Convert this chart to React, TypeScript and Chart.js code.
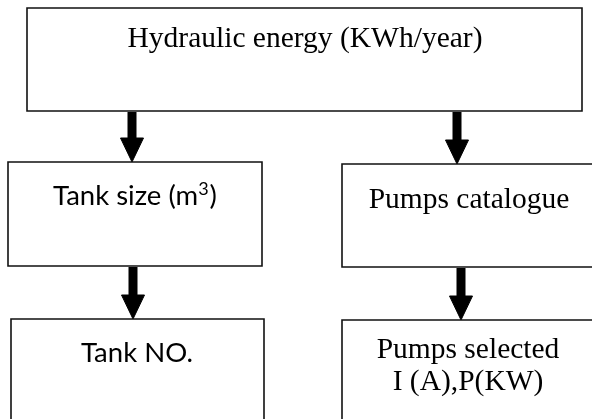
import React, { useEffect, useRef } from "react";
import { Chart, registerables } from "chart.js";

Chart.register(...registerables);

// ---- Flowchart content (nodes and links) ----
const nodeLines: string[][] = [
  ["Hydraulic energy (KWh/year)"],
  ["Tank size (m³)"],
  ["Pumps catalogue"],
  ["Tank NO."],
  ["Pumps selected", "I (A),P(KW)"],
];
const nodeFontKind: string[] = ["serif", "sans", "serif", "sans", "serif"];
const linkFrom: number[] = [0, 0, 1, 2];
const linkTo: number[] = [1, 2, 3, 4];

// ---- Layout (diagram units on the hidden linear scales) ----
const boxLeft: number[] = [27, 8, 342, 11, 342];
const boxRight: number[] = [582, 262, 600, 264, 600];
const boxTop: number[] = [8, 162, 164, 319, 320];
const boxBottom: number[] = [111, 266, 267, 430, 430];
const textCenterX: number[] = [305, 135, 469, 137, 468];
const textBaseline: number[] = [47, 205, 208, 362, 358];
const linkX: number[] = [132, 457, 133, 461];

const W = 592;
const H = 419;
const HEAD_LEN = 24;
const HEAD_HALF = 11.5;
const LINE_GAP = 32;

const fontFamily: Record<string, string> = {
  serif: '"Liberation Serif", "Times New Roman", serif',
  sans: 'Lato, "Open Sans", sans-serif',
};
const fontSize: Record<string, number> = { serif: 29.5, sans: 27.5 };

function buildDatasets() {
  const ds: any[] = [];
  nodeLines.forEach((_, i) => {
    const l = boxLeft[i], r = boxRight[i], t = boxTop[i], b = boxBottom[i];
    ds.push({
      label: "box" + i,
      data: [
        { x: l, y: t },
        { x: r, y: t },
        { x: r, y: b },
        { x: l, y: b },
        { x: l, y: t },
      ],
      showLine: true,
      borderColor: "#111",
      borderWidth: 1.6,
      borderJoinStyle: "miter",
      borderCapStyle: "square",
      pointRadius: 0,
      fill: false,
      tension: 0,
    });
  });
  linkFrom.forEach((from, k) => {
    const to = linkTo[k];
    const x = linkX[k];
    const y0 = boxBottom[from] + 1;
    const tip = boxTop[to];
    ds.push({
      label: "stem" + k,
      data: [
        { x, y: y0 },
        { x, y: tip - HEAD_LEN + 1 },
      ],
      showLine: true,
      borderColor: "#000",
      borderWidth: 9,
      borderCapStyle: "butt",
      pointRadius: 0,
      fill: false,
    });
    ds.push({
      label: "head" + k,
      data: [
        { x: x - HEAD_HALF, y: tip - HEAD_LEN },
        { x: x + HEAD_HALF, y: tip - HEAD_LEN },
        { x, y: tip },
        { x: x - HEAD_HALF, y: tip - HEAD_LEN },
      ],
      showLine: true,
      borderColor: "#000",
      backgroundColor: "#000",
      borderWidth: 1,
      pointRadius: 0,
      fill: "shape",
    });
  });
  return ds;
}

// draws a line, rendering "³" as a raised, smaller "3"
function drawLine(ctx: CanvasRenderingContext2D, text: string, cx: number, by: number, kind: string) {
  const size = fontSize[kind];
  const fam = fontFamily[kind];
  const main = `${size}px ${fam}`;
  const sup = `${Math.round(size * 0.65)}px ${fam}`;
  const parts = text.split("³");
  const pieces: { t: string; sup: boolean }[] = [];
  parts.forEach((p, idx) => {
    if (p) pieces.push({ t: p, sup: false });
    if (idx < parts.length - 1) pieces.push({ t: "3", sup: true });
  });
  let total = 0;
  const widths = pieces.map((pc) => {
    ctx.font = pc.sup ? sup : main;
    const w = ctx.measureText(pc.t).width + (pc.sup ? 1 : 0);
    total += w;
    return w;
  });
  let x = cx - total / 2;
  ctx.textAlign = "left";
  pieces.forEach((pc, idx) => {
    ctx.font = pc.sup ? sup : main;
    ctx.fillText(pc.t, x, pc.sup ? by - size * 0.36 : by);
    x += widths[idx];
  });
}

const textPlugin = {
  id: "nodeText",
  afterDatasetsDraw(chart: any) {
    const { ctx, scales } = chart;
    const xs = scales.x;
    const ys = scales.y;
    ctx.save();
    ctx.fillStyle = "#000";
    ctx.textBaseline = "alphabetic";
    nodeLines.forEach((lines, i) => {
      lines.forEach((line, j) => {
        drawLine(
          ctx,
          line,
          xs.getPixelForValue(textCenterX[i]),
          ys.getPixelForValue(textBaseline[i] + j * LINE_GAP),
          nodeFontKind[i]
        );
      });
    });
    ctx.restore();
  },
};

export default function App() {
  const ref = useRef<HTMLCanvasElement | null>(null);
  useEffect(() => {
    if (!ref.current) return;
    const chart = new Chart(ref.current, {
      type: "scatter",
      data: { datasets: buildDatasets() },
      options: {
        animation: false,
        responsive: false,
        events: [],
        layout: { padding: 0 },
        plugins: { legend: { display: false }, tooltip: { enabled: false } },
        scales: {
          x: { type: "linear", min: 0, max: W, display: false },
          y: { type: "linear", min: 0, max: H, reverse: true, display: false },
        },
      },
      plugins: [textPlugin],
    });
    return () => chart.destroy();
  }, []);
  return (
    <div style={{ position: "fixed", left: 0, top: 0, width: W, height: H, background: "#fff" }}>
      <canvas ref={ref} width={W} height={H} style={{ display: "block" }} />
    </div>
  );
}
